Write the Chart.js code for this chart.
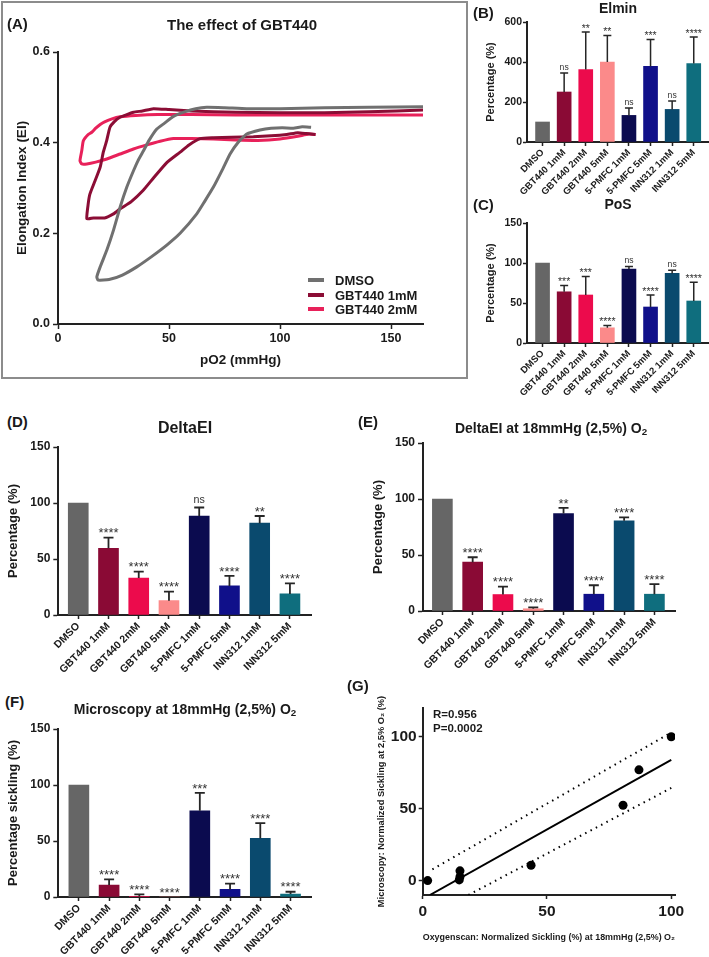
<!DOCTYPE html>
<html>
<head>
<meta charset="utf-8">
<script src="https://cdn.jsdelivr.net/npm/chart.js@4/dist/chart.umd.min.js"></script>
<style>
  body { margin: 0; background: #fff; }
  #page { position: relative; width: 709px; height: 957px; overflow: hidden;
          font-family: "Liberation Sans", Arial, sans-serif; font-weight: bold; color: #1a1a1a; }
  .box { position: absolute; }
  .txt { position: absolute; white-space: nowrap; line-height: 1; transform: translate(-50%, -50%); }
  .lft { position: absolute; white-space: nowrap; line-height: 1; transform: translateY(-50%); }
  sub { font-size: 70%; vertical-align: -0.25em; line-height: 0; }
  #frameA { position: absolute; left: 1px; top: 1px; width: 463px; height: 374px; border: 2px solid #8c8c8c; }
  .leg { position: absolute; width: 16px; height: 4px; }
</style>
</head>
<body>
<div id="page">
  <div id="frameA"></div>

  <canvas id="cA" class="box" width="468" height="380" style="left:0;top:0"></canvas>
  <canvas id="cB" class="box" width="239" height="205" style="left:470px;top:0"></canvas>
  <canvas id="cC" class="box" width="239" height="205" style="left:470px;top:200px"></canvas>
  <canvas id="cD" class="box" width="340" height="250" style="left:0;top:430px"></canvas>
  <canvas id="cE" class="box" width="354" height="250" style="left:355px;top:430px"></canvas>
  <canvas id="cF" class="box" width="340" height="242" style="left:0;top:715px"></canvas>
  <canvas id="cG" class="box" width="364" height="292" style="left:345px;top:665px"></canvas>

  <div class="lft" style="left:7px;top:23px;font-size:15px">(A)</div>
  <div class="txt" style="left:242px;top:24px;font-size:15px">The effect of GBT440</div>
  <div class="lft" style="left:473px;top:12px;font-size:15px">(B)</div>
  <div class="txt" style="left:618px;top:8px;font-size:14px">Elmin</div>
  <div class="lft" style="left:473px;top:204px;font-size:15px">(C)</div>
  <div class="txt" style="left:618px;top:204px;font-size:14px">PoS</div>
  <div class="lft" style="left:7px;top:421px;font-size:15px">(D)</div>
  <div class="txt" style="left:185px;top:428px;font-size:16px">DeltaEI</div>
  <div class="lft" style="left:358px;top:421px;font-size:15px">(E)</div>
  <div class="txt" style="left:551px;top:428px;font-size:14px">DeltaEI at 18mmHg (2,5%) O<sub>2</sub></div>
  <div class="lft" style="left:5px;top:701px;font-size:15px">(F)</div>
  <div class="txt" style="left:185px;top:709px;font-size:14px">Microscopy at 18mmHg (2,5%) O<sub>2</sub></div>
  <div class="lft" style="left:347px;top:685px;font-size:15px">(G)</div>
  <div class="lft" id="rText" style="left:433px;top:715px;font-size:11.5px"></div>
  <div class="lft" id="pText" style="left:433px;top:729px;font-size:11.5px"></div>
  <div id="legendA"></div>
</div>

<script>
Chart.defaults.font.family = '"Liberation Sans", Arial, sans-serif'
Chart.defaults.color = '#1a1a1a'

// ---- shared categories / colours ----
const categories = ['DMSO', 'GBT440 1mM', 'GBT440 2mM', 'GBT440 5mM', '5-PMFC 1mM', '5-PMFC 5mM', 'INN312 1mM', 'INN312 5mM']
const barColors = ['#666666', '#8a0a35', '#ec0b4c', '#fb8a8a', '#0b0b4f', '#10108a', '#0a4a6e', '#0f6e7e']

// ---- (A) oxygenscan curves: pO2 (mmHg) and EI ----
const dmsoPO2 = [165, 140, 120, 100, 85, 75, 67, 62, 57, 52, 48, 44.5, 41, 38.5, 36, 34, 31, 28, 25, 22, 19, 17.5, 18,
  23, 29, 35.5, 42, 49, 55, 62.5, 66, 70, 74, 77.5, 81, 85, 91, 96, 101, 106, 110, 114]
const dmsoEI = [0.479, 0.478, 0.477, 0.475, 0.475, 0.477, 0.478, 0.475, 0.468, 0.458, 0.443, 0.43, 0.405, 0.382, 0.36, 0.338, 0.302, 0.258, 0.207, 0.163, 0.126, 0.104, 0.097,
  0.098, 0.108, 0.126, 0.148, 0.174, 0.2, 0.243, 0.27, 0.302, 0.34, 0.375, 0.4, 0.419, 0.428, 0.432, 0.433, 0.432, 0.435, 0.434]
const gbt1PO2 = [165, 140, 120, 100, 80, 60, 50, 43, 38, 34, 30, 27.9, 25.5, 23.4, 21.9, 20.4, 19, 16.7, 14.4, 13.6, 13,
  16, 21, 25, 28, 33, 38.4, 43, 49, 55, 59, 64, 70, 78, 88, 96, 103, 108, 112, 116]
const gbt1EI = [0.472, 0.468, 0.466, 0.466, 0.467, 0.47, 0.473, 0.475, 0.47, 0.467, 0.46, 0.456, 0.447, 0.434, 0.404, 0.379, 0.346, 0.316, 0.287, 0.265, 0.232,
  0.234, 0.234, 0.243, 0.254, 0.27, 0.295, 0.322, 0.356, 0.379, 0.395, 0.409, 0.411, 0.412, 0.413, 0.415, 0.418, 0.422, 0.42, 0.418]
const gbt2PO2 = [165, 140, 120, 100, 80, 60, 45, 35, 28, 24, 21, 19, 17, 15.2, 13.6, 11.4, 10.7, 9.9, 10.7,
  13, 17, 22, 28, 34, 40, 46, 52, 60, 70, 80, 90, 100, 108, 113, 116]
const gbt2EI = [0.461, 0.461, 0.461, 0.461, 0.461, 0.462, 0.462, 0.46, 0.457, 0.452, 0.446, 0.44, 0.432, 0.423, 0.418, 0.404, 0.382, 0.36, 0.353,
  0.353, 0.357, 0.364, 0.375, 0.386, 0.395, 0.403, 0.409, 0.409, 0.408, 0.406, 0.405, 0.408, 0.414, 0.419, 0.418]
const curveNames = ['DMSO', 'GBT440 1mM', 'GBT440 2mM']
const curveColors = ['#707070', '#8b0d35', '#e8215a']
const eiTicks = [0, 0.2, 0.4, 0.6]
const po2Ticks = [0, 50, 100, 150]

// ---- (B) Elmin ----
const elminMean = [100, 250, 362, 400, 133, 378, 163, 392]
const elminSD = [0, 95, 188, 133, 37, 134, 42, 133]
const elminSig = ['', 'ns', '**', '**', 'ns', '***', 'ns', '****']

// ---- (C) PoS ----
const posMean = [100, 64, 60, 19, 92.5, 45, 87, 52.5]
const posSD = [0, 8, 23, 3, 3, 15, 4, 23.5]
const posSig = ['', '***', '***', '****', 'ns', '****', 'ns', '****']

// ---- (D) DeltaEI ----
const deltaMean = [100, 59.5, 33, 12.8, 88.4, 26, 82, 18.8]
const deltaSD = [0, 9.5, 5.7, 8, 7.6, 9, 6.4, 9.5]
const deltaSig = ['', '****', '****', '****', 'ns', '****', '**', '****']

// ---- (E) DeltaEI at 18 mmHg ----
const delta18Mean = [100, 43.6, 14.7, 2, 87, 15, 80.6, 15]
const delta18SD = [0, 4.4, 7, 1.3, 5, 8, 3, 9]
const delta18Sig = ['', '****', '****', '****', '**', '****', '****', '****']

// ---- (F) microscopy sickling ----
const microMean = [100, 10.7, 0.5, 0, 77, 6.8, 52.4, 2.7]
const microSD = [0, 5, 1.9, 0, 16, 5.2, 13.6, 2]
const microSig = ['', '****', '****', '****', '***', '****', '****', '****']

// ---- (G) correlation ----
const corrOxy = [100, 43.6, 14.7, 2, 87, 15, 80.6, 15]
const corrMicro = [100, 10.7, 0.5, 0, 77, 6.8, 52.4, 2.7]
const fitX = [2.9, 100], fitY = [-10, 84]
const upperX = [3.9, 100], upperY = [7.8, 103]
const lowerX = [18.4, 100], lowerY = [-10, 64.4]
const corrR = 0.956, corrP = 0.0002
const pctTicks = [0, 50, 100, 150]

const pts = (xs, ys) => xs.map((x, i) => ({ x: x, y: ys[i] }))
const axisColor = '#222'

function axisGrid(len) {
  return { display: true, drawOnChartArea: false, offset: false, tickLength: len, tickColor: axisColor, tickWidth: 1.5 }
}

// ---------- (A) ----------
new Chart(document.getElementById('cA'), {
  type: 'scatter',
  data: {
    datasets: [
      { data: pts(dmsoPO2, dmsoEI) },
      { data: pts(gbt1PO2, gbt1EI) },
      { data: pts(gbt2PO2, gbt2EI) },
    ].map((d, i) => Object.assign(d, {
      label: curveNames[i], showLine: true, pointRadius: 0, borderWidth: 3,
      borderColor: curveColors[i], borderJoinStyle: 'round', tension: 0.15,
    })),
  },
  options: {
    responsive: false,
    animation: false,
    layout: { padding: { left: 0, top: 52, right: 45, bottom: 0 } },
    plugins: { legend: { display: false }, tooltip: { enabled: false } },
    scales: {
      x: {
        type: 'linear', min: 0, max: 164.4,
        afterBuildTicks: s => { s.ticks = po2Ticks.map(v => ({ value: v })) },
        afterFit: s => { s.height = 56 },
        grid: axisGrid(5),
        border: { color: axisColor, width: 2 },
        ticks: { padding: 2, font: { size: 12.5, weight: 'bold' } },
        title: { display: true, text: 'pO2 (mmHg)', font: { size: 13.5, weight: 'bold' }, padding: { top: 0, bottom: 12 } },
      },
      y: {
        min: 0, max: 0.6,
        afterBuildTicks: s => { s.ticks = eiTicks.map(v => ({ value: v })) },
        afterFit: s => { s.width = 58 },
        grid: axisGrid(5),
        border: { color: axisColor, width: 2 },
        ticks: { padding: 3, font: { size: 12.5, weight: 'bold' }, callback: v => v.toFixed(1) },
        title: { display: true, text: 'Elongation Index (EI)', font: { size: 13.5, weight: 'bold' }, padding: { top: 14, bottom: 0 } },
      },
    },
  },
})

// legend for (A)
const legA = document.getElementById('legendA')
curveNames.forEach((name, i) => {
  const y = 280 + i * 14.5
  legA.insertAdjacentHTML('beforeend',
    '<div class="leg" style="left:308px;top:' + (y - 2) + 'px;background:' + curveColors[i] + '"></div>' +
    '<div class="lft" style="left:335px;top:' + y + 'px;font-size:13px">' + name + '</div>')
})

// ---------- bar panels ----------
function barPanel(id, mean, sd, sig, o) {
  const errPlugin = {
    id: 'errbars_' + id,
    afterDatasetsDraw(chart) {
      const ctx = chart.ctx
      const y = chart.scales.y
      const bars = chart.getDatasetMeta(0).data
      ctx.save()
      bars.forEach((bar, i) => {
        const top = y.getPixelForValue(mean[i] + sd[i])
        if (sd[i] > 0) {
          ctx.strokeStyle = '#262626'
          ctx.lineWidth = o.errW
          ctx.beginPath()
          ctx.moveTo(bar.x, bar.y)
          ctx.lineTo(bar.x, top)
          ctx.moveTo(bar.x - o.cap / 2, top)
          ctx.lineTo(bar.x + o.cap / 2, top)
          ctx.stroke()
        }
        if (sig[i]) {
          const ns = sig[i] === 'ns'
          const size = ns ? o.star * 0.82 : o.star
          ctx.fillStyle = '#333'
          ctx.font = size + 'px "Liberation Sans", Arial, sans-serif'
          ctx.textAlign = 'center'
          ctx.textBaseline = 'alphabetic'
          const dy = ns ? -o.star * 0.25 : o.star * 0.05
          ctx.fillText(sig[i], bar.x, top - o.errW / 2 + dy)
        }
      })
      ctx.restore()
    },
  }

  new Chart(document.getElementById(id), {
    type: 'bar',
    data: {
      datasets: [{
        data: mean.map((v, i) => ({ x: i, y: v })),
        backgroundColor: barColors,
        borderWidth: 0,
        barThickness: o.bw,
      }],
    },
    options: {
      responsive: false,
      animation: false,
      layout: { padding: { left: 0, top: o.top, right: o.right, bottom: 0 } },
      plugins: { legend: { display: false }, tooltip: { enabled: false } },
      scales: {
        x: {
          type: 'linear', min: o.xMin, max: o.xMax, offset: false,
          afterBuildTicks: s => { s.ticks = categories.map((c, i) => ({ value: i })) },
          afterFit: s => { s.height = o.xH },
          grid: axisGrid(4),
          border: { color: axisColor, width: 2 },
          ticks: {
            autoSkip: false, minRotation: 45, maxRotation: 45, padding: 1,
            font: { size: o.lab, weight: 'bold' }, callback: v => categories[v],
          },
        },
        y: {
          min: 0, max: o.yMax,
          afterBuildTicks: s => { s.ticks = o.yTicks.map(v => ({ value: v })) },
          afterFit: s => { s.width = o.left },
          grid: axisGrid(o.tl),
          border: { color: axisColor, width: 2 },
          ticks: { padding: o.tp, font: { size: o.tick, weight: 'bold' } },
          title: {
            display: true, text: o.yTitle, font: { size: o.tSize, weight: 'bold' },
            padding: { top: o.tPad, bottom: 0 },
          },
        },
      },
    },
    plugins: [errPlugin],
  })
}

const smallOpts = { bw: 14, cap: 8, errW: 1.5, star: 10.5, lab: 9.5, tick: 10.5, tl: 4, tp: 1,
  left: 57, right: 1, xMin: -0.72, xMax: 7.66, tSize: 11, tPad: 14.4, yTitle: 'Percentage (%)' }

barPanel('cB', elminMean, elminSD, elminSig, Object.assign({}, smallOpts, {
  top: 22, xH: 63, yMax: 600, yTicks: [0, 200, 400, 600],
}))
barPanel('cC', posMean, posSD, posSig, Object.assign({}, smallOpts, {
  top: 23, xH: 62, yMax: 150, yTicks: pctTicks,
}))

const bigOpts = { bw: 20, cap: 10, errW: 1.8, star: 13, lab: 10.5, tick: 12, tl: 5, tp: 3, tSize: 13, yMax: 150, yTicks: pctTicks }

barPanel('cD', deltaMean, deltaSD, deltaSig, Object.assign({}, bigOpts, {
  top: 17, xH: 65, left: 58.3, right: 28.3, xMin: -0.66, xMax: 7.72, tPad: 5.5, yTitle: 'Percentage (%)',
}))
barPanel('cE', delta18Mean, delta18SD, delta18Sig, Object.assign({}, bigOpts, {
  top: 13, xH: 69, left: 68, right: 34, xMin: -0.64, xMax: 7.68, tPad: 15.2, yTitle: 'Percentage (%)',
}))
barPanel('cF', microMean, microSD, microSig, Object.assign({}, bigOpts, {
  top: 14, xH: 60, left: 58.3, right: 28.3, xMin: -0.68, xMax: 7.7, tPad: 5.5, yTitle: 'Percentage sickling (%)',
}))

// ---------- (G) ----------
new Chart(document.getElementById('cG'), {
  type: 'scatter',
  data: {
    datasets: [
      { data: pts(corrOxy, corrMicro), pointRadius: 4.5, pointBackgroundColor: '#000', pointBorderWidth: 0 },
      { data: pts(fitX, fitY), showLine: true, pointRadius: 0, borderColor: '#000', borderWidth: 2 },
      { data: pts(upperX, upperY), showLine: true, pointRadius: 0, borderColor: '#000', borderWidth: 2, borderDash: [1.5, 4.5] },
      { data: pts(lowerX, lowerY), showLine: true, pointRadius: 0, borderColor: '#000', borderWidth: 2, borderDash: [1.5, 4.5] },
    ],
  },
  options: {
    responsive: false,
    animation: false,
    layout: { padding: { left: 0, top: 43, right: 34, bottom: 0 } },
    plugins: { legend: { display: false }, tooltip: { enabled: false } },
    scales: {
      x: {
        type: 'linear', min: 0, max: 101.5,
        afterBuildTicks: s => { s.ticks = [0, 50, 100].map(v => ({ value: v })) },
        afterFit: s => { s.height = 62 },
        grid: axisGrid(4),
        border: { color: axisColor, width: 2 },
        ticks: { padding: 3, font: { size: 15.5, weight: 'bold' } },
        title: {
          display: true, text: 'Oxygenscan: Normalized Sickling (%) at 18mmHg (2,5%) O\u2082',
          font: { size: 9.3, weight: 'bold' }, padding: { top: 0, bottom: 14.3 },
        },
      },
      y: {
        min: -10, max: 120,
        afterBuildTicks: s => { s.ticks = [0, 50, 100].map(v => ({ value: v })) },
        afterFit: s => { s.width = 77.7 },
        grid: axisGrid(4),
        border: { color: axisColor, width: 2 },
        ticks: { padding: 2, font: { size: 15.5, weight: 'bold' } },
        title: {
          display: true, text: 'Microscopy: Normalized Sickling at 2,5% O\u2082 (%)',
          font: { size: 9.3, weight: 'bold' }, padding: { top: 31.3, bottom: 0 },
        },
      },
    },
  },
})

document.getElementById('rText').textContent = 'R=' + corrR.toFixed(3)
document.getElementById('pText').textContent = 'P=' + corrP.toFixed(4)
</script>
</body>
</html>
